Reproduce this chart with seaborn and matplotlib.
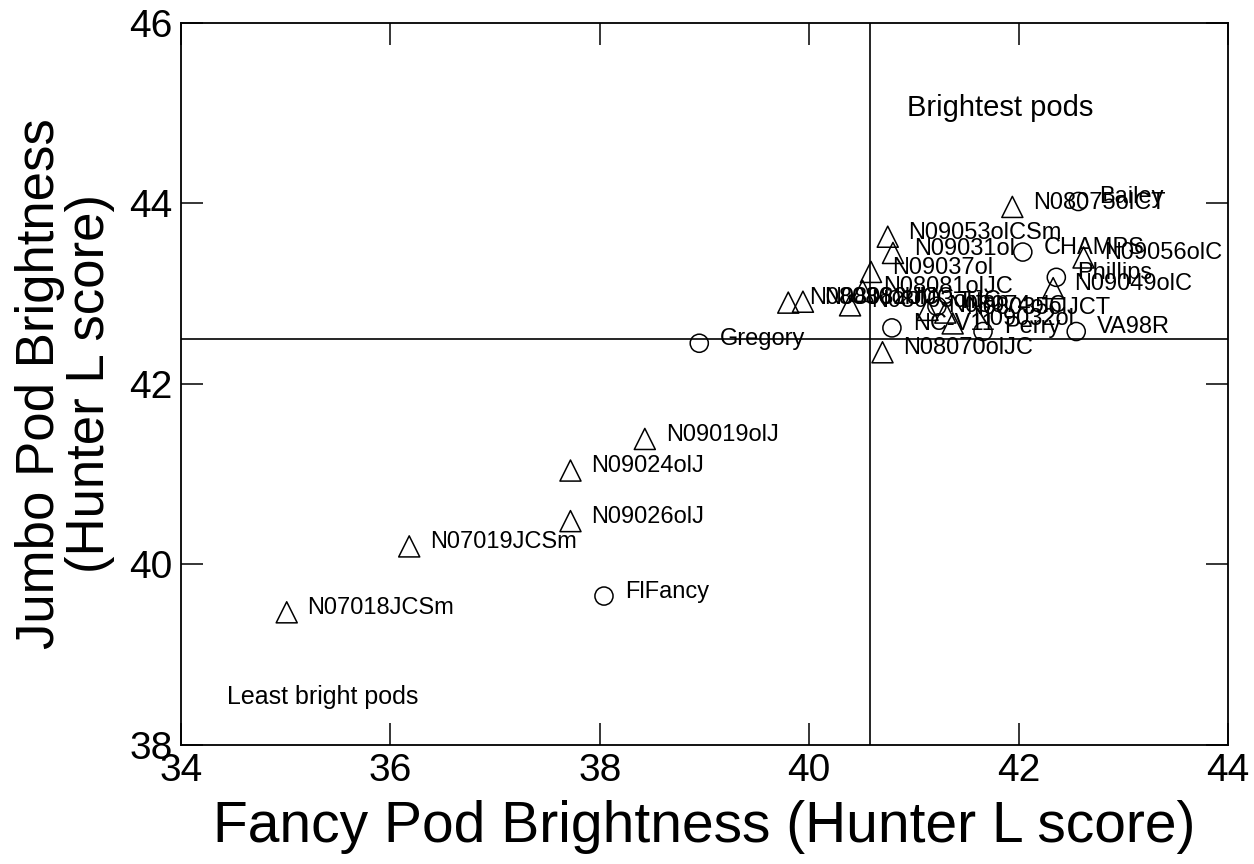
import matplotlib
matplotlib.use("Agg")
import matplotlib.pyplot as plt
import seaborn as sns
import pandas as pd

sns.set_theme(style="white")
plt.rcParams['font.family'] = ['Liberation Sans', 'DejaVu Sans']
plt.rcParams['text.color'] = 'black'
plt.rcParams['axes.labelcolor'] = 'black'
plt.rcParams['xtick.color'] = 'black'
plt.rcParams['ytick.color'] = 'black'

# Data
names = ["N07018JCSm", "N07019JCSm", "N09026olJ", "N09024olJ", "N09019olJ",
         "FlFancy", "Gregory",
         "N08086olJC", "N08082olJC", "N08003olJC", "N08081olJC",
         "N09037ol", "N09031ol", "N09053olCSm", "N08075olCT", "Bailey",
         "CHAMPS", "N09056olC", "Phillips", "N09049olC", "VA98R",
         "NC-V11", "Perry", "N08070olJC", "N08074olC", "Titan",
         "N08035olJCT", "N09032ol"]
fancy = [35.01, 36.18, 37.72, 37.72, 38.43,
         38.04, 38.95,
         39.80, 39.94, 40.39, 40.51,
         40.59, 40.80, 40.75, 41.94, 42.57,
         42.04, 42.62, 42.36, 42.33, 42.55,
         40.79, 41.66, 40.70, 41.13, 41.22,
         41.30, 41.37]
jumbo = [39.47, 40.20, 40.48, 41.04, 41.39,
         39.65, 42.45,
         42.90, 42.91, 42.87, 43.03,
         43.24, 43.45, 43.63, 43.96, 44.02,
         43.46, 43.40, 43.18, 43.06, 42.58,
         42.62, 42.58, 42.35, 42.82, 42.86,
         42.79, 42.67]
kind = ["line", "line", "line", "line", "line",
        "check", "check",
        "line", "line", "line", "line",
        "line", "line", "line", "line", "check",
        "check", "line", "check", "line", "check",
        "check", "check", "line", "line", "check",
        "line", "line"]

x_ticks = [34, 36, 38, 40, 42, 44]
y_ticks = [38, 40, 42, 44, 46]
ref_x = 40.58
ref_y = 42.5

df = pd.DataFrame({"name": names, "fancy": fancy, "jumbo": jumbo, "kind": kind})

fig = plt.figure(figsize=(12.54, 8.64), dpi=100)
ax = fig.add_axes([0.1443, 0.1377, 0.835, 0.836])

ax.axvline(ref_x, color="black", lw=1.2, zorder=1)
ax.axhline(ref_y, color="black", lw=1.2, zorder=1)

sns.scatterplot(data=df[df.kind == "line"], x="fancy", y="jumbo", marker="^",
                s=230, facecolors="none", edgecolors="black", linewidth=1.1,
                ax=ax, zorder=3, legend=False)
sns.scatterplot(data=df[df.kind == "check"], x="fancy", y="jumbo", marker="o",
                s=170, facecolors="none", edgecolors="black", linewidth=1.1,
                ax=ax, zorder=3, legend=False)

for n, xv, yv in zip(names, fancy, jumbo):
    ax.annotate(n, (xv, yv), xytext=(15, 3), textcoords="offset points",
                fontsize=17, color="black", va="center", ha="left", zorder=4)

ax.text(40.93, 45.05, "Brightest pods", fontsize=21, ha="left", va="center")
ax.text(34.44, 38.53, "Least bright pods", fontsize=18, ha="left", va="center")

ax.set_xlim(34, 44)
ax.set_ylim(38, 46)
ax.set_xticks(x_ticks)
ax.set_yticks(y_ticks)
ax.tick_params(direction="in", length=16, width=1.1, labelsize=28, color="black",
               labelcolor="black", top=True, right=True, bottom=True, left=True, pad=6)
for s in ax.spines.values():
    s.set_color("black")
    s.set_linewidth(1.3)

ax.set_xlabel("Fancy Pod Brightness (Hunter L score)", fontsize=41, labelpad=8)
ax.set_ylabel("Jumbo Pod Brightness\n(Hunter L score)", fontsize=38, labelpad=10,
              linespacing=1.0)

fig.savefig("out.png", dpi=100, facecolor="white")
